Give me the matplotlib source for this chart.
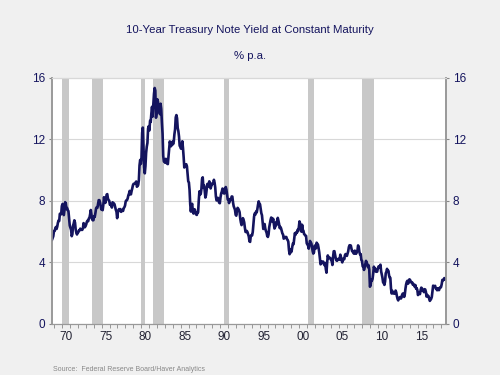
import numpy as np
import pandas as pd
import matplotlib
matplotlib.use('Agg')
import matplotlib.pyplot as plt

plt.rcParams['font.family'] = ['Liberation Sans', 'DejaVu Sans']

# monthly 10-year yield, % p.a., from Jul 1968
start = '1968-07'
yields = [
    5.50, 5.42, 5.46, 5.58, 5.70, 6.03,                                # 1968
    6.04, 6.19, 6.30, 6.17, 6.32, 6.57, 6.72, 6.69, 7.16, 7.10, 7.14, 7.65,
    7.79, 7.24, 7.07, 7.39, 7.91, 7.84, 7.46, 7.53, 7.39, 7.33, 6.84, 6.39,
    6.24, 6.11, 5.70, 5.83, 6.39, 6.52, 6.73, 6.58, 6.14, 5.93, 5.81, 5.93,
    5.95, 6.08, 6.07, 6.19, 6.13, 6.11, 6.11, 6.21, 6.55, 6.48, 6.28, 6.36,
    6.46, 6.64, 6.71, 6.67, 6.85, 6.90, 7.13, 7.40, 7.09, 6.79, 6.73, 6.74,
    6.99, 6.96, 7.21, 7.51, 7.58, 7.54, 7.81, 8.04, 8.04, 7.90, 7.68, 7.43,
    7.50, 7.39, 7.73, 8.23, 8.06, 7.86, 8.06, 8.40, 8.43, 8.14, 8.05, 8.00,
    7.74, 7.79, 7.73, 7.56, 7.90, 7.86, 7.83, 7.77, 7.59, 7.41, 7.29, 6.87,
    7.21, 7.39, 7.46, 7.37, 7.46, 7.28, 7.33, 7.40, 7.34, 7.52, 7.58, 7.69,
    7.96, 8.03, 8.04, 8.15, 8.35, 8.46, 8.64, 8.41, 8.42, 8.64, 8.81, 9.01,
    9.10, 9.10, 9.12, 9.18, 9.25, 8.91, 8.95, 9.03, 9.33, 10.30, 10.65, 10.39,
    10.80, 12.41, 12.75, 11.47, 10.18, 9.78, 10.25, 11.10, 11.51, 11.75, 12.68, 12.84,
    12.57, 13.19, 13.12, 13.68, 14.10, 13.47, 14.28, 14.94, 15.32, 15.15, 13.39, 13.72,
    14.59, 14.43, 13.86, 13.87, 13.62, 14.30, 13.95, 13.06, 12.34, 10.91, 10.55, 10.54,
    10.46, 10.72, 10.51, 10.40, 10.38, 10.85, 11.38, 11.85, 11.65, 11.54, 11.69, 11.83,
    11.67, 11.84, 12.32, 12.63, 13.41, 13.56, 13.36, 12.72, 12.52, 12.16, 11.57, 11.50,
    11.38, 11.51, 11.86, 11.43, 10.85, 10.16, 10.31, 10.33, 10.37, 10.24, 9.78, 9.26,
    9.19, 8.70, 7.78, 7.30, 7.71, 7.80, 7.30, 7.17, 7.45, 7.43, 7.25, 7.11,
    7.08, 7.25, 7.25, 8.02, 8.61, 8.40, 8.45, 8.76, 9.42, 9.52, 8.86, 8.99,
    8.67, 8.21, 8.37, 8.72, 9.09, 8.92, 9.06, 9.26, 8.98, 8.80, 8.96, 9.11,
    9.09, 9.17, 9.36, 9.18, 8.86, 8.28, 8.02, 8.11, 8.19, 8.01, 7.87, 7.84,
    8.21, 8.47, 8.59, 8.79, 8.76, 8.48, 8.47, 8.75, 8.89, 8.72, 8.39, 8.08,
    8.09, 7.85, 8.11, 8.04, 8.07, 8.28, 8.27, 7.90, 7.65, 7.53, 7.42, 7.09,
    7.03, 7.34, 7.54, 7.48, 7.39, 7.26, 6.84, 6.59, 6.42, 6.59, 6.87, 6.77,
    6.60, 6.26, 5.98, 5.97, 6.04, 5.96, 5.81, 5.68, 5.36, 5.33, 5.72, 5.77,
    5.75, 5.97, 6.48, 6.97, 7.18, 7.10, 7.30, 7.24, 7.46, 7.74, 7.96, 7.81,
    7.78, 7.47, 7.20, 7.06, 6.63, 6.17, 6.28, 6.49, 6.20, 6.04, 5.93, 5.71,
    5.65, 5.81, 6.27, 6.51, 6.74, 6.91, 6.87, 6.64, 6.83, 6.53, 6.20, 6.30,
    6.58, 6.42, 6.69, 6.89, 6.71, 6.49, 6.22, 6.30, 6.21, 6.03, 5.88, 5.81,
    5.54, 5.57, 5.65, 5.64, 5.65, 5.50, 5.46, 5.34, 4.81, 4.53, 4.83, 4.65,
    4.72, 5.00, 5.23, 5.18, 5.54, 5.90, 5.79, 5.94, 5.92, 6.11, 6.03, 6.28,
    6.66, 6.52, 6.26, 5.99, 6.44, 6.10, 6.05, 5.83, 5.80, 5.74, 5.72, 5.24,
    5.16, 5.10, 4.89, 5.14, 5.39, 5.28, 5.24, 4.97, 4.73, 4.57, 4.65, 5.09,
    5.04, 4.91, 5.28, 5.21, 5.16, 4.93, 4.65, 4.26, 3.87, 3.94, 4.05, 4.03,
    4.05, 3.90, 3.81, 3.96, 3.57, 3.33, 3.98, 4.45, 4.27, 4.29, 4.30, 4.27,
    4.15, 4.08, 3.83, 4.35, 4.72, 4.73, 4.50, 4.28, 4.13, 4.10, 4.19, 4.23,
    4.22, 4.17, 4.50, 4.34, 4.14, 4.00, 4.18, 4.26, 4.20, 4.46, 4.54, 4.47,
    4.42, 4.57, 4.72, 4.99, 5.11, 5.11, 5.09, 4.88, 4.72, 4.73, 4.60, 4.56,
    4.76, 4.72, 4.56, 4.69, 4.75, 5.10, 5.00, 4.67, 4.52, 4.53, 4.15, 4.10,
    3.74, 3.74, 3.51, 3.68, 3.88, 4.10, 4.01, 3.89, 3.69, 3.81, 3.53, 2.42,
    2.52, 2.87, 2.82, 2.93, 3.29, 3.72, 3.56, 3.59, 3.40, 3.39, 3.40, 3.59,
    3.73, 3.69, 3.73, 3.85, 3.42, 3.20, 3.01, 2.70, 2.65, 2.54, 2.76, 3.29,
    3.39, 3.58, 3.41, 3.46, 3.17, 3.00, 3.00, 2.30, 1.98, 2.15, 2.01, 1.98,
    1.97, 1.97, 2.17, 2.05, 1.80, 1.62, 1.53, 1.68, 1.72, 1.75, 1.65, 1.72,
    1.91, 1.98, 1.96, 1.76, 1.93, 2.30, 2.58, 2.74, 2.81, 2.62, 2.72, 2.90,
    2.86, 2.71, 2.72, 2.71, 2.56, 2.60, 2.54, 2.42, 2.53, 2.30, 2.33, 2.21,
    1.88, 1.98, 2.04, 1.94, 2.20, 2.36, 2.32, 2.17, 2.17, 2.07, 2.26, 2.24,
    2.09, 1.78, 1.89, 1.81, 1.81, 1.64, 1.50, 1.56, 1.63, 1.76, 2.14, 2.49,
    2.43, 2.42, 2.48, 2.30, 2.30, 2.19, 2.32, 2.21, 2.20, 2.36, 2.35, 2.40,
    2.58, 2.86, 2.84, 2.87, 2.98, 2.91,                                # 2018
]

# NBER recessions (decimal years)
rec_start = [1969.92, 1973.83, 1980.0, 1981.5, 1990.5, 2001.17, 2007.92]
rec_end = [1970.83, 1975.17, 1980.5, 1982.83, 1991.17, 2001.83, 2009.42]

tick_years = [1970, 1975, 1980, 1985, 1990, 1995, 2000, 2005, 2010, 2015]
tick_labels = ['70', '75', '80', '85', '90', '95', '00', '05', '10', '15']
y_ticks = [0, 4, 8, 12, 16]

navy = '#14145e'
bg = '#f0f0f0'

dates = pd.period_range(start, periods=len(yields), freq='M')
x = dates.year + (dates.month - 0.5) / 12

fig = plt.figure(figsize=(5, 3.75), dpi=100, facecolor=bg)
ax = fig.add_axes([0.1046, 0.136, 0.7868, 0.6573])
ax.set_facecolor('white')

for s, e in zip(rec_start, rec_end):
    ax.axvspan(s, e, color='#c8c8c8', lw=0, zorder=1)

ax.plot(x, yields, color=navy, lw=1.9, zorder=3)

ax.set_xlim(1968.75, 2018.55)
ax.set_ylim(0, 16)
ax.set_yticks(y_ticks)
ax.grid(axis='y', color='#d8d8d8', lw=0.8, zorder=0)
ax.set_axisbelow(True)

ax.set_xticks([t + 0.5 for t in tick_years])
ax.set_xticklabels(tick_labels)
ax.set_xticks(np.arange(1969, 2019), minor=True)
ax.tick_params(axis='x', which='major', length=0, pad=5, labelsize=8.5, labelcolor='#222233')
ax.tick_params(axis='x', which='minor', length=3, color='#888888', direction='out')
ax.tick_params(axis='y', length=2, color='#888888', labelsize=8.5, labelcolor=navy, pad=3)

ax2 = ax.twinx()
ax2.set_ylim(0, 16)
ax2.set_yticks(y_ticks)
ax2.tick_params(axis='y', length=2, color='#888888', labelsize=8.5, labelcolor=navy, pad=3)

for a in (ax, ax2):
    a.spines['top'].set_color('#d8d8d8')
    a.spines['left'].set_color('#999999')
    a.spines['right'].set_color('#999999')
    a.spines['bottom'].set_color('#999999')
    a.spines['left'].set_linewidth(1.2)
    a.spines['right'].set_linewidth(1.2)

fig.text(0.5, 0.92, '10-Year Treasury Note Yield at Constant Maturity',
         ha='center', va='center', fontsize=8.2, color=navy)
fig.text(0.5, 0.851, '% p.a.', ha='center', va='center', fontsize=8.2, color=navy)
fig.text(0.106, 0.005, 'Source:  Federal Reserve Board/Haver Analytics',
         ha='left', va='bottom', fontsize=5, color='#888888')

fig.savefig('out.png', dpi=100, facecolor=bg)
